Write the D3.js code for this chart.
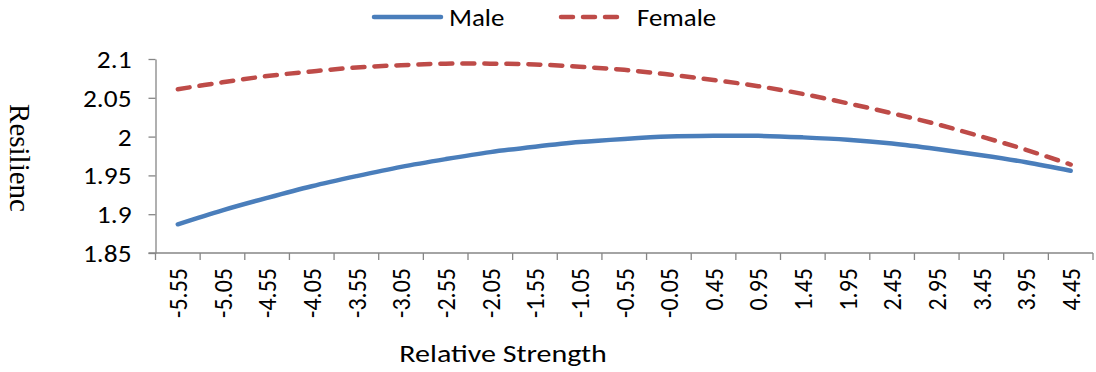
<!DOCTYPE html>
<html>
<head>
<meta charset="utf-8">
<script src="https://cdn.jsdelivr.net/npm/d3@7"></script>
<style>
  html, body { margin: 0; padding: 0; background: #fff; }
  svg { display: block; }
  .sans { font-family: Carlito, Lato, "Open Sans", sans-serif; fill: #000; }
</style>
</head>
<body>
<svg id="chart" width="1096" height="372"></svg>
<script>
// Relative strength categories along the x axis
const categories = ["-5.55","-5.05","-4.55","-4.05","-3.55","-3.05","-2.55","-2.05","-1.55","-1.05",
                    "-0.55","-0.05","0.45","0.95","1.45","1.95","2.45","2.95","3.45","3.95","4.45"];
// Predicted resilience per group
const male   = [1.887,1.905,1.921,1.936,1.949,1.961,1.971,1.980,1.987,1.993,
                1.997,2.000,2.001,2.001,1.999,1.996,1.991,1.984,1.976,1.967,1.956];
const female = [2.061,2.070,2.078,2.084,2.089,2.092,2.094,2.094,2.093,2.090,
                2.086,2.080,2.073,2.065,2.055,2.043,2.030,2.016,2.000,1.983,1.964];
const yTicks = [1.85, 1.9, 1.95, 2, 2.05, 2.1];
const seriesNames = ["Male", "Female"];

const blue = "#4A7EBB", red = "#BE4B48", axisGrey = "#868686";
const svg = d3.select("#chart");

const plotLeft = 155.5, plotRight = 1093, plotTop = 59, plotBottom = 253;
const x = d3.scaleBand().domain(categories).range([plotLeft, plotRight]).padding(0);
const y = d3.scaleLinear().domain([1.85, 2.1]).range([plotBottom, plotTop]);

// y axis
const yAxis = svg.append("g")
  .attr("transform", `translate(${plotLeft},0)`)
  .call(d3.axisLeft(y).tickValues(yTicks).tickSize(7).tickSizeOuter(0)
    .tickFormat(d => String(+d.toFixed(2))));
yAxis.select(".domain").attr("stroke", axisGrey).attr("stroke-width", 1.3);
yAxis.selectAll(".tick line").attr("stroke", axisGrey).attr("stroke-width", 1.3);
// labels are widened slightly, anchored at their right edge
yAxis.selectAll(".tick text")
  .attr("class", "sans")
  .attr("x", 0).attr("dy", "0.35em")
  .attr("font-family", null).attr("font-size", null)
  .attr("transform", "translate(-24,0) scale(1.14,1)")
  .style("font-size", "24px");

// x axis (category boundaries carry the ticks)
const xAxisG = svg.append("g").attr("transform", `translate(0,${plotBottom})`);
xAxisG.append("line")
  .attr("x1", plotLeft - 7).attr("x2", plotRight)
  .attr("stroke", axisGrey).attr("stroke-width", 1.3);
const bounds = categories.map(c => x(c)).concat([plotRight]);
xAxisG.selectAll("line.tk").data(bounds).enter().append("line")
  .attr("class", "tk")
  .attr("x1", d => d).attr("x2", d => d)
  .attr("y1", 0).attr("y2", 7)
  .attr("stroke", axisGrey).attr("stroke-width", 1.3);
xAxisG.selectAll("text").data(categories).enter().append("text")
  .attr("class", "sans")
  .attr("transform", d => `translate(${x(d) + x.bandwidth() / 2},15) scale(1.1,1) rotate(-90)`)
  .attr("text-anchor", "end")
  .attr("dy", "0.35em")
  .style("font-size", "24px")
  .text(d => d);

// axis titles
svg.append("text")
  .attr("class", "sans")
  .attr("transform", "translate(503,362) scale(1.2,1)")
  .attr("text-anchor", "middle")
  .style("font-size", "25px")
  .text("Relative Strength");
svg.append("text")
  .attr("transform", "translate(10,158) rotate(90)")
  .attr("text-anchor", "middle")
  .style("font-family", "'Liberation Serif', 'DejaVu Serif', serif")
  .style("font-size", "29px")
  .text("Resilienc");

// series lines
const line = d3.line()
  .x((d, i) => x(categories[i]) + x.bandwidth() / 2)
  .y(d => y(d))
  .curve(d3.curveCatmullRom.alpha(0.5));

svg.append("path").datum(male)
  .attr("d", line)
  .attr("fill", "none").attr("stroke", blue)
  .attr("stroke-width", 4.5).attr("stroke-linecap", "round");
svg.append("path").datum(female)
  .attr("d", line)
  .attr("fill", "none").attr("stroke", red)
  .attr("stroke-width", 4.5).attr("stroke-linecap", "round")
  .attr("stroke-dasharray", "12,10");

// legend
const legend = svg.append("g");
legend.append("line")
  .attr("x1", 374).attr("x2", 441).attr("y1", 17).attr("y2", 17)
  .attr("stroke", blue).attr("stroke-width", 4.5).attr("stroke-linecap", "round");
legend.append("line")
  .attr("x1", 561).attr("x2", 622).attr("y1", 17).attr("y2", 17)
  .attr("stroke", red).attr("stroke-width", 4.5).attr("stroke-linecap", "round")
  .attr("stroke-dasharray", "12,10");
legend.selectAll("text.lg").data(seriesNames).enter().append("text")
  .attr("class", "sans lg")
  .attr("transform", (d, i) => `translate(${i === 0 ? 449 : 637},26) scale(1.12,1)`)
  .style("font-size", "24px")
  .text(d => d);
</script>
</body>
</html>
